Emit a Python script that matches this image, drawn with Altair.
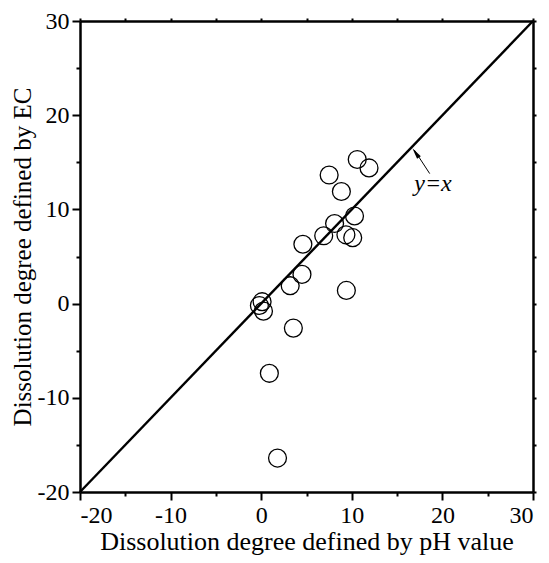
import altair as alt
import pandas as pd

# Data
ph_values = [10.6, 11.9, 7.5, 8.85, 10.3, 8.1, 6.9, 9.35, 10.1, 4.6, 4.5, 3.2, 9.4,
             -0.2, 0.1, 0.25, 3.55, 0.9, 1.8]
ec_values = [15.3, 14.4, 13.65, 11.9, 9.3, 8.5, 7.2, 7.3, 7.0, 6.3, 3.1, 1.9, 1.4,
             -0.2, 0.2, -0.8, -2.6, -7.4, -16.4]

line_x = [-20, 30]
line_y = [-20, 30]

arrow_x = [18.6, 16.9]
arrow_y = [13.8, 16.3]
arrow_head_x = [17.05]
arrow_head_y = [16.0]
label_x = [18.96]
label_y = [12.7]
label_text = ["y=x"]

FONT = "Liberation Serif"

pts = pd.DataFrame({"x": ph_values, "y": ec_values})
diag = pd.DataFrame({"x": line_x, "y": line_y})
arrow = pd.DataFrame({"x": arrow_x, "y": arrow_y})
head = pd.DataFrame({"x": arrow_head_x, "y": arrow_head_y})
lab = pd.DataFrame({"x": label_x, "y": label_y, "t": label_text})

xscale = alt.Scale(domain=[-20, 30], nice=False, zero=False)
yscale = alt.Scale(domain=[-20, 30], nice=False, zero=False)

tick_vals = list(range(-20, 31, 5))
tick_cond = {"condition": {"test": "datum.value % 10 === 0", "value": 8}, "value": 4}
label_expr = "datum.value % 10 === 0 ? ('' + datum.value) : ''"

x_axis = alt.Axis(
    orient="bottom",
    values=tick_vals,
    labelExpr=label_expr,
    tickSize=tick_cond,
    title="Dissolution degree defined by pH value",
    titleFontSize=26,
    titlePadding=1,
    grid=False,
)
y_axis = alt.Axis(
    orient="left",
    values=tick_vals,
    labelExpr=label_expr,
    tickSize=tick_cond,
    title="Dissolution degree defined by EC",
    titleFontSize=25,
    titlePadding=2,
    grid=False,
)

points = alt.Chart(pts).mark_point(
    shape="circle", filled=False, size=320, stroke="black", strokeWidth=1.3, opacity=1
).encode(
    x=alt.X("x:Q", scale=xscale, axis=x_axis),
    y=alt.Y("y:Q", scale=yscale, axis=y_axis),
)

top_axis = alt.Axis(orient="top", values=tick_vals, labels=False,
                    tickSize=3, title=None, grid=False)
right_axis = alt.Axis(orient="right", values=tick_vals, labels=False,
                      tickSize=3, title=None, grid=False)

diag_line = alt.Chart(diag).mark_line(color="black", strokeWidth=2.4).encode(
    x=alt.X("x:Q", scale=xscale, axis=top_axis),
    y=alt.Y("y:Q", scale=yscale, axis=right_axis),
)

arrow_line = alt.Chart(arrow).mark_line(color="black", strokeWidth=1).encode(
    x=alt.X("x:Q", scale=xscale, axis=None),
    y=alt.Y("y:Q", scale=yscale, axis=None),
)

arrow_head = alt.Chart(head).mark_point(
    shape="M0,-1L0.4,1L-0.4,1Z", filled=True, color="black", size=130, angle=325, opacity=1
).encode(
    x=alt.X("x:Q", scale=xscale, axis=None),
    y=alt.Y("y:Q", scale=yscale, axis=None),
)

label = alt.Chart(lab).mark_text(
    font=FONT, fontSize=24, fontStyle="italic", align="center", baseline="middle", color="black"
).encode(
    x=alt.X("x:Q", scale=xscale, axis=None),
    y=alt.Y("y:Q", scale=yscale, axis=None),
    text="t:N",
)

chart = alt.layer(points, diag_line, arrow_line, arrow_head, label).resolve_axis(
    x="independent", y="independent"
).properties(
    width=453, height=471,
    autosize=alt.AutoSizeParams(type="none"),
    padding={"left": 72, "top": 13, "right": 8, "bottom": 70},
).configure_view(stroke=None).configure_axis(
    domainColor="black", domainWidth=2.5, tickColor="black", tickWidth=2,
    labelFont=FONT, labelFontSize=24, labelColor="black", labelPadding=3,
    titleFont=FONT, titleColor="black", titleFontWeight="normal",
)

chart.save("out.html", embed_options={"renderer": "svg", "actions": False})
